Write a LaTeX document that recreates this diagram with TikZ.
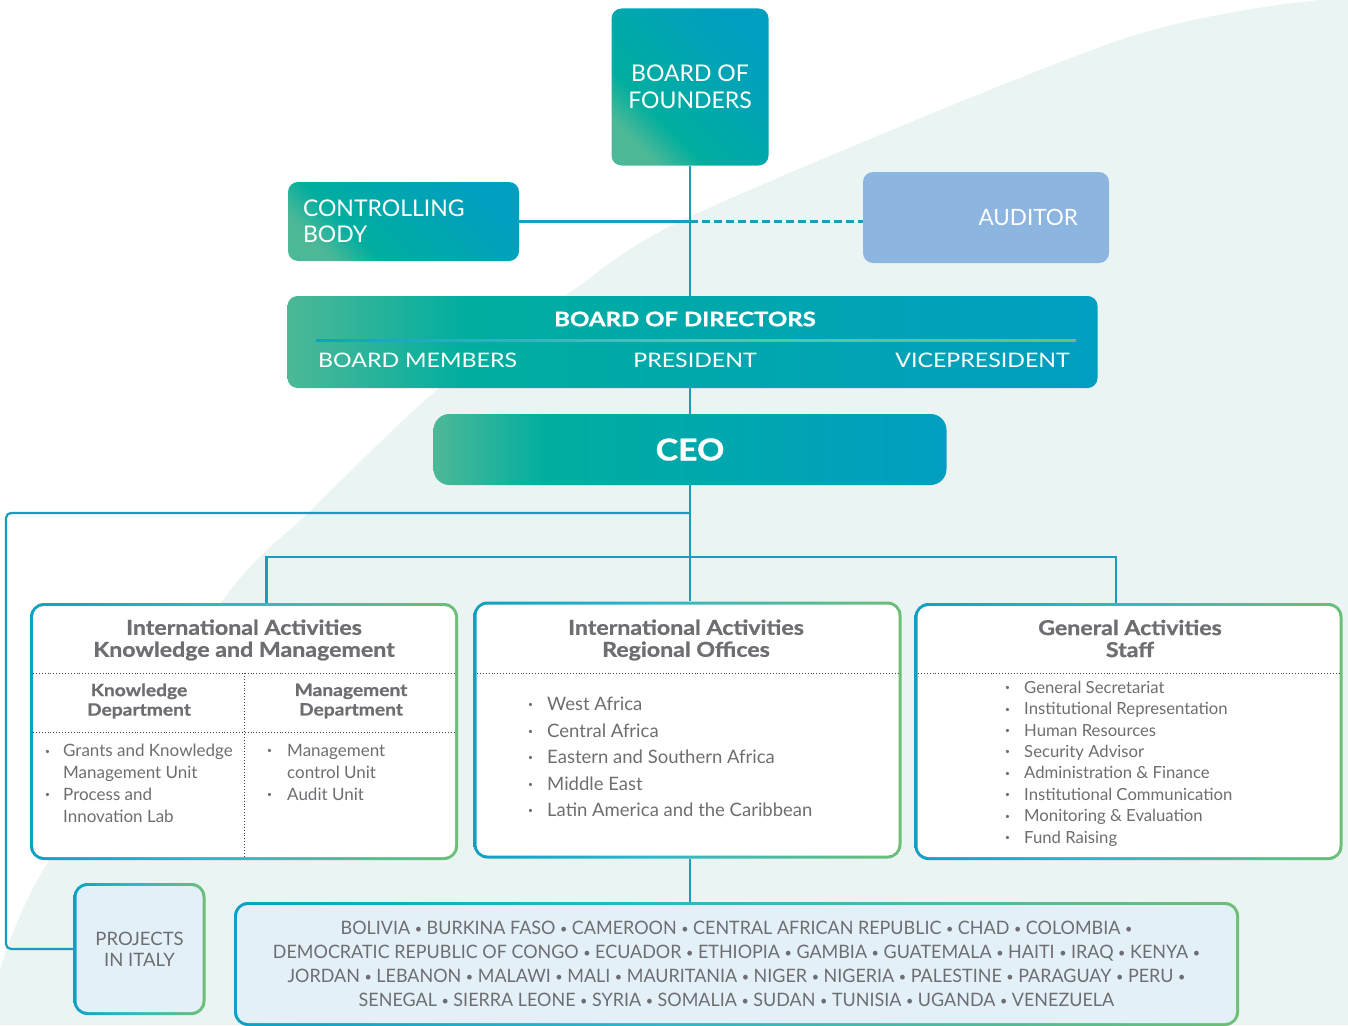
\documentclass[tikz,border=0pt]{standalone}
\usepackage{fontspec}
\setmainfont{Lato}
\newfontfamily\titlefont{Lato}[FakeBold=1, FakeStretch=1.13]
\newfontfamily\boardfont{Lato}[FakeBold=1, FakeStretch=1.2]
\newfontfamily\rowfont{Lato}[FakeStretch=1.16]
\newfontfamily\countryfont{Lato}[FakeStretch=0.97]
\usetikzlibrary{calc}

\definecolor{leafgreen}{HTML}{4DB897}
\definecolor{seateal}{HTML}{00AE9F}
\definecolor{deepblue}{HTML}{009EC1}
\definecolor{rimblue}{HTML}{0FA0C3}
\definecolor{rimcyan}{HTML}{2DB6CA}
\definecolor{rimgreen}{HTML}{6DBE77}
\definecolor{wirecol}{HTML}{179DBD}
\definecolor{haze}{HTML}{EAF4F2}
\definecolor{skyfill}{HTML}{8CB5E0}
\definecolor{paleblue}{HTML}{E4F0F8}
\definecolor{inkgrey}{HTML}{6D6E71}

\pgfdeclarehorizontalshading{boardshade}{100bp}{color(0bp)=(leafgreen); color(25bp)=(leafgreen); color(36bp)=(seateal); color(75bp)=(deepblue); color(100bp)=(deepblue)}
\pgfdeclarehorizontalshading{rimshade}{100bp}{color(0bp)=(rimblue); color(25bp)=(rimblue); color(45bp)=(rimcyan); color(75bp)=(rimgreen); color(100bp)=(rimgreen)}
\pgfdeclarehorizontalshading{lineshade}{100bp}{color(0bp)=(rimblue); color(25bp)=(rimblue); color(50bp)=(seateal!70!white); color(75bp)=(rimgreen); color(100bp)=(rimgreen)}

\newcommand{\itembul}[1][23pt]{\makebox[#1][l]{\hspace{3.8pt}\raisebox{2.6pt}{\fontsize{8.5}{8.5}\selectfont\textbullet}}}
\newcommand{\bulgap}[1][23pt]{\hspace*{#1}}
\newcommand{\ctrysep}{ \raisebox{1.5pt}{\fontsize{13}{13}\selectfont\textbullet} }

\tikzset{
	wire/.style={draw=wirecol, line width=2.2pt},
	dashwire/.style={wire, dash pattern=on 8pt off 4pt},
	solidbox/.style={rounded corners=10pt, shade, shading=boardshade, text=white, inner sep=0pt},
	rimbox/.style={rounded corners=14pt, shade, shading=rimshade, inner sep=0pt,
		path picture={\fill[#1, rounded corners=11pt] ([shift={(3pt,-3pt)}]path picture bounding box.north west) rectangle ([shift={(-3pt,3pt)}]path picture bounding box.south east);}},
	rimbox/.default=white,
	dotline/.style={draw=black!75, line width=0.9pt, dotted},
	headtext/.style={font=\fontsize{20.5}{22}\selectfont\titlefont\bfseries, text=inkgrey, align=center},
	subhead/.style={font=\fontsize{17}{19.5}\selectfont\titlefont\bfseries, text=inkgrey, align=center},
	listtext/.style={text=inkgrey, align=left, anchor=base west, inner sep=0pt},
	boardrow/.style={text=white, inner sep=0pt, font=\fontsize{20}{22}\selectfont\rowfont},
}

\begin{document}
\begin{tikzpicture}[x=1pt,y=-1pt]
	\useasboundingbox (0,0) rectangle (1348,1025);

	%background sweep
	\fill[haze] plot[smooth] coordinates {(1320,0) (1120,40) (698,213) (569,293) (437,390) (308,513) (223,600) (45,867) (0,970)} -- (0,1025) -- (1348,1025) -- (1348,0) -- cycle;

	%governance
	\node[solidbox, shading angle=45, minimum width=157pt, minimum height=157pt, align=center, font=\fontsize{23}{27}\selectfont] (founders) at (690,87) {BOARD OF\\FOUNDERS};
	\node[solidbox, shading angle=45, minimum width=231pt, minimum height=79pt, text width=201pt, align=left, font=\fontsize{23}{26}\selectfont] (control) at (403.5,221.5) {CONTROLLING\\BODY};
	\node[rounded corners=10pt, fill=skyfill, text=white, inner sep=0pt, minimum width=246pt, minimum height=91pt, text width=184pt, align=right, font=\fontsize{22.5}{26}\selectfont] (auditor) at (986,217.5) {AUDITOR};
	\node[solidbox, minimum width=810pt, minimum height=92pt] (board) at (692.5,342) {};
	\node[text=white, inner sep=0pt, font=\fontsize{20}{22}\selectfont\boardfont\bfseries] (boardtitle) at (685,319) {BOARD OF DIRECTORS};
	\shade[shading=lineshade] (316,339) rectangle (1076,341.5);
	\node[boardrow, anchor=west] (members) at (318,360) {BOARD MEMBERS};
	\node[boardrow] (president) at (695,360) {PRESIDENT};
	\node[boardrow, anchor=east] (vice) at (1070,360) {VICEPRESIDENT};
	\node[solidbox, rounded corners=16pt, minimum width=513pt, minimum height=71pt, font=\fontsize{30}{30}\selectfont\titlefont\bfseries] (ceo) at (690,449.5) {CEO};

	%departments
	\node[rimbox, minimum width=428pt, minimum height=257pt] (kmbox) at (244,731.5) {};
	\node[rimbox, minimum width=428pt, minimum height=257pt] (regbox) at (687.5,730) {};
	\node[rimbox, minimum width=428pt, minimum height=257pt] (staffbox) at (1128.5,731.5) {};

	%field
	\node[rimbox=paleblue, minimum width=132pt, minimum height=132pt, text=inkgrey, align=center, font=\fontsize{18.5}{21}\selectfont] (italy) at (139.5,949) {PROJECTS\\IN ITALY};
	\node[rimbox=paleblue, minimum width=1005pt, minimum height=124pt, text=inkgrey, align=center, font=\fontsize{18.5}{24}\selectfont\countryfont] (countries) at (736.5,964) {BOLIVIA\ctrysep BURKINA FASO\ctrysep CAMEROON\ctrysep CENTRAL AFRICAN REPUBLIC\ctrysep CHAD\ctrysep COLOMBIA\ctrysep\\DEMOCRATIC REPUBLIC OF CONGO\ctrysep ECUADOR\ctrysep ETHIOPIA\ctrysep GAMBIA\ctrysep GUATEMALA\ctrysep HAITI\ctrysep IRAQ\ctrysep KENYA\ctrysep\\JORDAN\ctrysep LEBANON\ctrysep MALAWI\ctrysep MALI\ctrysep MAURITANIA\ctrysep NIGER\ctrysep NIGERIA\ctrysep PALESTINE\ctrysep PARAGUAY\ctrysep PERU\ctrysep\\SENEGAL\ctrysep SIERRA LEONE\ctrysep SYRIA\ctrysep SOMALIA\ctrysep SUDAN\ctrysep TUNISIA\ctrysep UGANDA\ctrysep VENEZUELA};

	%connections
	\coordinate (spine) at (founders.south);
	\coordinate (split) at (spine |- control.east);
	\coordinate (elbow) at (spine |- 0,513);
	\coordinate (fork) at (spine |- 0,557);
	\coordinate (sideway) at (6,0 |- italy.west);
	\draw[wire] (founders.south) -- (spine |- board.north);
	\draw[wire] (control.east) -- (split);
	\draw[dashwire] (split) -- (split -| auditor.west);
	\draw[wire] (spine |- board.south) -- (spine |- ceo.north);
	\draw[wire] (spine |- ceo.south) -- (spine |- regbox.north);
	\draw[wire] ([xshift=22.5pt]kmbox.north) |- (fork) -| ([xshift=-12.5pt]staffbox.north);
	\draw[wire, rounded corners=5pt] (elbow) -| (sideway) -- (italy.west);
	\draw[wire] (spine |- regbox.south) -- (spine |- countries.north);

	%knowledge and management
	\node[headtext] (kmtitle) at (244,640) {International Activities\\Knowledge and Management};
	\draw[dotline] (33,673) -- (455,673);
	\draw[dotline] (33,732) -- (455,732);
	\draw[dotline] (244,673) -- (244,858);
	\node[subhead] (kdept) at (139,701) {Knowledge\\Department};
	\node[subhead] (mdept) at (351,701) {Management\\Department};
	\node[listtext, font=\fontsize{17}{21.8}\selectfont] (klist) at (41,822) {\itembul[22pt]Grants and Knowledge\\\bulgap[22pt]Management Unit\\\itembul[22pt]Process and\\\bulgap[22pt]Innovation Lab};
	\node[listtext, font=\fontsize{17}{21.8}\selectfont] (mlist) at (263,800) {\itembul[24pt]Management\\\bulgap[24pt]control Unit\\\itembul[24pt]Audit Unit};

	%regional offices
	\node[headtext] (regtitle) at (686,640) {International Activities\\Regional Offices};
	\draw[dotline] (477,673) -- (898,673);
	\node[listtext, font=\fontsize{18.5}{26.5}\selectfont] (reglist) at (524,816.5) {\itembul West Africa\\\itembul Central Africa\\\itembul Eastern and Southern Africa\\\itembul Middle East\\\itembul Latin America and the Caribbean};

	%staff
	\node[headtext] (stafftitle) at (1130,638.5) {General Activities\\Staff};
	\draw[dotline] (918,673) -- (1340,673);
	\node[listtext, font=\fontsize{16.7}{21.4}\selectfont] (stafflist) at (1001,843) {\itembul General Secretariat\\\itembul Institutional Representation\\\itembul Human Resources\\\itembul Security Advisor\\\itembul Administration \& Finance\\\itembul Institutional Communication\\\itembul Monitoring \& Evaluation\\\itembul Fund Raising};
\end{tikzpicture}
\end{document}
